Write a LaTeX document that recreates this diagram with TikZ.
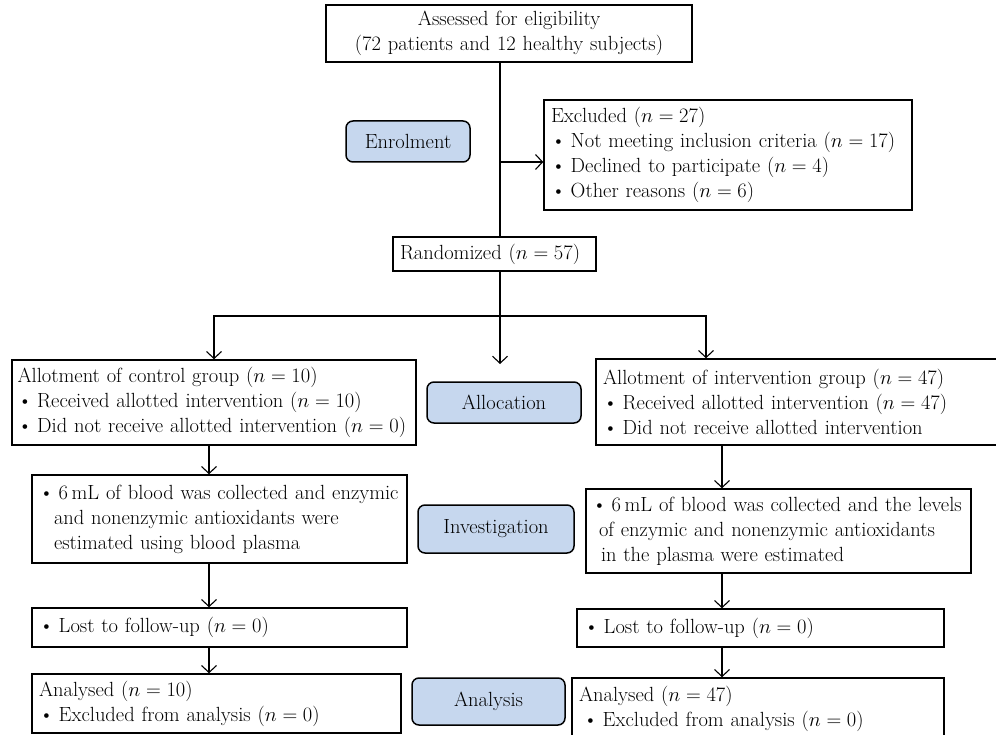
\documentclass[tikz,border=0pt]{standalone}
\usepackage{fix-cm}
\usepackage{fontspec}
\usetikzlibrary{arrows.meta,positioning}

\definecolor{stageblue}{HTML}{C6D7EE}
\newcommand{\itembul}{\textbullet\hspace{5pt}}

\tikzset{
    box/.style={draw, line width=1.5pt, inner xsep=7pt, inner ysep=2pt, align=left, text width=#1},
    stage/.style={draw, line width=1.5pt, rounded corners=7pt, fill=stageblue, align=center},
    flow/.style={line width=1.1pt},
    >={Straight Barb[length=7pt,width=15pt]}
}

\begin{document}
\begin{tikzpicture}[x=1pt, y=-1pt, font=\fontsize{20.5}{25}\selectfont]
    \useasboundingbox (0,0) rectangle (996,735);

    % Enrolment
    \node[box=352pt, align=center, minimum height=57pt] (assess) at (509,33.5) {Assessed for eligibility\\(72 patients and 12 healthy subjects)};
    \node[box=354pt, minimum height=110pt] (excl) at (728,155) {Excluded ($n = 27$)\\\itembul Not meeting inclusion criteria ($n = 17$)\\\itembul Declined to participate ($n = 4$)\\\itembul Other reasons ($n = 6$)};
    \node[stage, minimum width=124pt, minimum height=41pt] (enrol) at (408,141.5) {Enrolment};
    \node[box=189pt, minimum height=34pt] (rand) at (494.5,254) {Randomized ($n = 57$)};

    % Allocation
    \node[box=393pt, inner xsep=5.5pt, minimum height=85pt] (ctrl) at (214,402.5) {Allotment of control group ($n = 10$)\\\itembul Received allotted intervention ($n = 10$)\\\itembul Did not receive allotted intervention ($n = 0$)};
    \node[stage, minimum width=154pt, minimum height=41pt] (alloc) at (504,402.5) {Allocation};
    \node[box=390pt, minimum height=86pt] (intv) at (798,402) {Allotment of intervention group ($n = 47$)\\\itembul Received allotted intervention ($n = 47$)\\\itembul Did not receive allotted intervention};

    % Investigation
    \node[box=361pt, minimum height=88pt] (invL) at (219.5,519) {\mbox{\itembul 6\,mL of blood was collected and enzymic}\\\hspace*{15pt}and nonenzymic antioxidants were\\\hspace*{15pt}estimated using blood plasma};
    \node[stage, minimum width=156pt, minimum height=48pt] (invest) at (496,529) {Investigation};
    \node[box=373pt, inner xsep=6pt, minimum height=84pt] (invR) at (778.5,531) {\mbox{\itembul 6\,mL of blood was collected and the levels}\\\hspace*{7pt}of enzymic and nonenzymic antioxidants\\\hspace*{9pt}in the plasma were estimated};

    % Follow-up
    \node[box=361pt, minimum height=39pt] (lostL) at (219.5,627.5) {\itembul Lost to follow-up ($n = 0$)};
    \node[box=353pt, minimum height=38pt] (lostR) at (760.5,628) {\itembul Lost to follow-up ($n = 0$)};

    % Analysis
    \node[box=355pt, minimum height=59pt] (anaL) at (216.5,703.5) {Analysed ($n = 10$)\\\itembul Excluded from analysis ($n = 0$)};
    \node[stage, minimum width=153pt, minimum height=47pt] (ana) at (488.5,701.5) {Analysis};
    \node[box=358pt, minimum height=62pt] (anaR) at (758,709) {Analysed ($n = 47$)\\\hspace*{4pt}\itembul Excluded from analysis ($n = 0$)};

    % Connectors
    \coordinate (split) at (500,316);
    \coordinate (mid) at (500,364);
    \coordinate (armR) at (706,316);
    \coordinate (colL) at (209,0);
    \coordinate (colR) at (722,0);
    \coordinate (exclin) at ([yshift=-7pt]excl.west);

    \draw[flow] (assess.south -| split) -- (rand.north -| split);
    \draw[flow, ->] (split |- exclin) -- (exclin);
    \draw[flow] (rand.south -| split) -- (split);
    \draw[flow, ->] (split) -| (ctrl.north);
    \draw[flow, ->] (split) -- (armR) -- (armR |- intv.north);
    \draw[flow, ->] (split) -- (mid);

    \draw[flow, ->] (ctrl.south -| colL) -- (invL.north -| colL);
    \draw[flow, ->] (invL.south -| colL) -- (lostL.north -| colL);
    \draw[flow, ->] (lostL.south -| colL) -- (anaL.north -| colL);
    \draw[flow, ->] (intv.south -| colR) -- (invR.north -| colR);
    \draw[flow, ->] (invR.south -| colR) -- (lostR.north -| colR);
    \draw[flow, ->] (lostR.south -| colR) -- (anaR.north -| colR);
\end{tikzpicture}
\end{document}
